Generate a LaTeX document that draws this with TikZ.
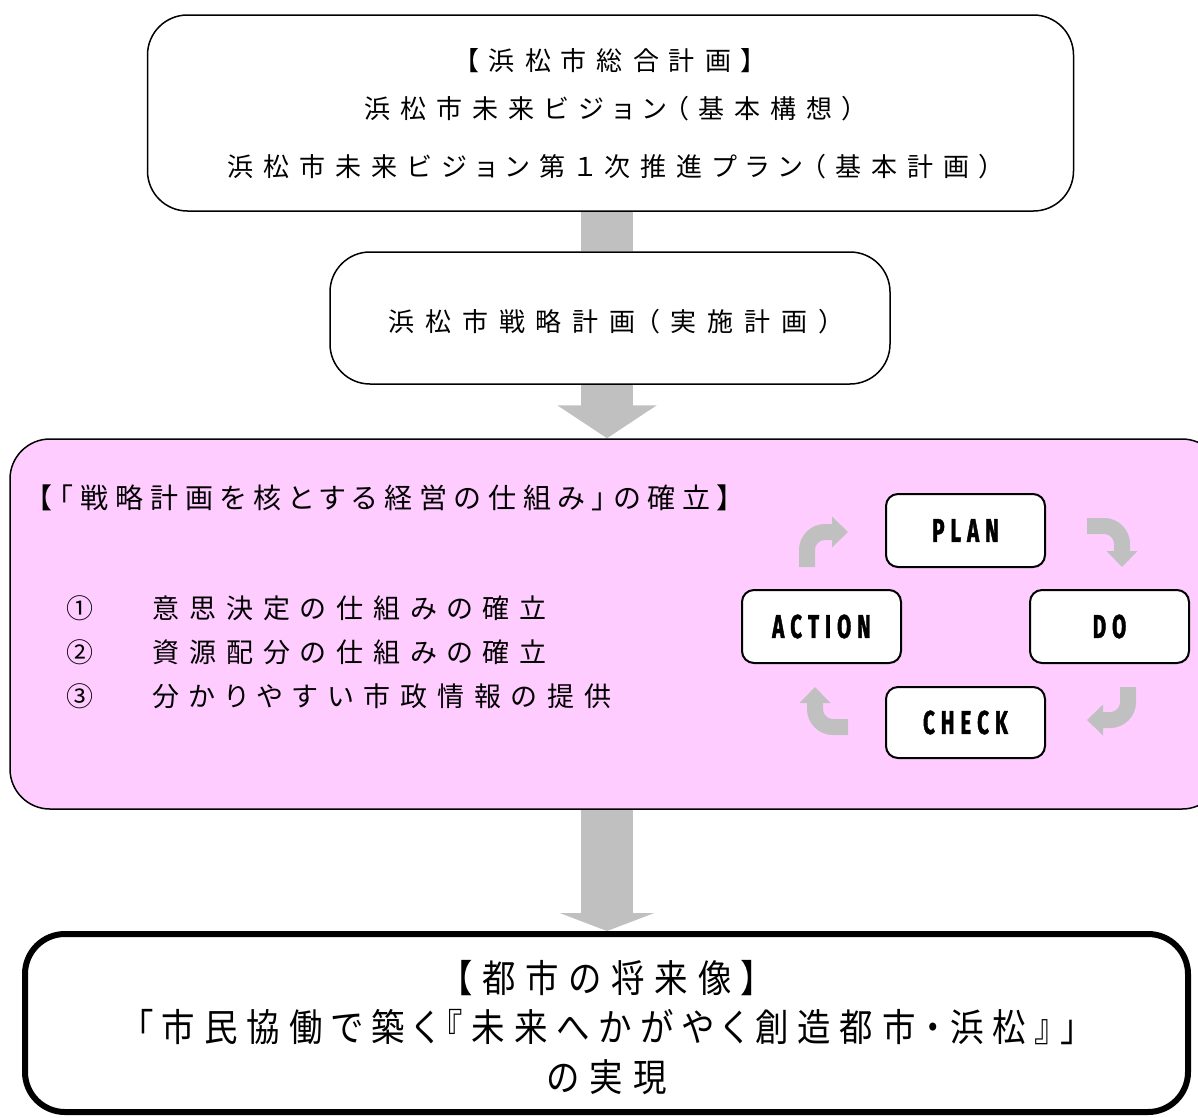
\documentclass[tikz,border=0pt]{standalone}
\usepackage{fontspec}
\usetikzlibrary{arrows.meta}
\newfontfamily\jp[RawFeature=+palt]{Noto Sans CJK JP}
\newfontfamily\jpbig[RawFeature=+palt,FakeStretch=0.88]{Noto Sans CJK JP}
\newfontfamily\pdcafont[FakeStretch=0.62,BoldFeatures={FakeBold=1.2}]{Fira Sans}
\definecolor{agray}{RGB}{192,192,192}
\definecolor{pinkfill}{RGB}{255,204,255}
\newdimen\lsp
\def\SO#1{\SOa#1\relax}
\def\SOa#1#2{#1\ifx\relax#2\else\kern\lsp\expandafter\SOa\fi#2}
\pgfdeclarelayer{bg}
\pgfsetlayers{bg,main}
\tikzset{
  frame/.style={draw=black, line width=1.5pt, rounded corners=40pt, fill=white, inner sep=0pt},
  pdcabox/.style={draw=black, line width=2pt, rounded corners=12pt, fill=white, inner sep=0pt,
    minimum width=159pt, minimum height=73pt,
    font=\pdcafont\bfseries\fontsize{33}{33}\selectfont},
  txt/.style={inner sep=0pt},
  bigarrow/.style={draw=agray, line width=52pt},
  cyc/.style={draw=agray, line width=16pt, rounded corners=18pt, -{Triangle[length=16pt,width=30pt]}},
}
\begin{document}
\begin{tikzpicture}[x=1pt,y=-1pt]
\useasboundingbox (0,0) rectangle (1198,1117);
\coordinate (ax) at (607,0);
% boxes
\node[frame, minimum width=926pt, minimum height=196pt] (top) at (610.5,113) {};
\node[frame, minimum width=560pt, minimum height=132pt] (box2) at (610,318) {};
\node[frame, fill=pinkfill, minimum width=1212pt, minimum height=370pt] (pink) at (616,624) {};
\node[frame, line width=6pt, minimum width=1163pt, minimum height=178pt] (goal) at (606.5,1023) {};
% arrows behind boxes
\begin{pgfonlayer}{bg}
\draw[bigarrow] (top.south -| ax) -- (box2.north -| ax);
\draw[bigarrow, -{Triangle[length=33pt,width=98pt]}] (box2.south -| ax) -- (pink.north -| ax);
\draw[bigarrow, -{Triangle[length=18pt,width=94pt]}] (pink.south -| ax) -- (goal.north -| ax);
\end{pgfonlayer}
% top box text
\begin{scope}[every node/.style={txt, font=\jp\fontsize{26}{26}\selectfont}]
\node (t1) at (610,61) {\lsp=10pt\relax\SO{【浜松市総合計画】}};
\node (t2) at (610,109) {\lsp=10pt\relax\SO{浜松市未来ビジョン（基本構想）}};
\node (t3) at (610,167) {\lsp=10pt\relax\SO{浜松市未来ビジョン第１次推進プラン（基本計画）}};
\node (s2) at (610,322) {\lsp=11pt\relax\SO{浜松市戦略計画（実施計画）}};
\end{scope}
% pink box text
\begin{scope}[every node/.style={txt, anchor=west, font=\jp\fontsize{28}{28}\selectfont}]
\node (title) at (38,498) {\lsp=7pt\relax\SO{【「戦略計画を核とする経営の仕組み」の確立】}};
\end{scope}
\begin{scope}[every node/.style={txt, anchor=west, font=\jp\fontsize{27}{27}\selectfont}]
\node (n1) at (66,608) {①};
\node (n2) at (66,652) {②};
\node (n3) at (66,696) {③};
\node (i1) at (152,608) {\lsp=10pt\relax\SO{意思決定の仕組みの確立}};
\node (i2) at (152,652) {\lsp=10pt\relax\SO{資源配分の仕組みの確立}};
\node (i3) at (152,696) {\lsp=10pt\relax\SO{分かりやすい市政情報の提供}};
\end{scope}
% PDCA
\node[pdcabox] (plan) at (965.5,530.5) {\lsp=6pt\relax\SO{PLAN}};
\node[pdcabox] (action) at (821.5,626.5) {\lsp=6pt\relax\SO{ACTION}};
\node[pdcabox] (do) at (1109.5,626.5) {\lsp=6pt\relax\SO{DO}};
\node[pdcabox, minimum height=71pt] (check) at (965.5,722.5) {\lsp=6pt\relax\SO{CHECK}};
\coordinate (tl1) at (807,567); \coordinate (tl2) at (807,532); \coordinate (tl3) at (848,532);
\coordinate (tr1) at (1087,526); \coordinate (tr2) at (1122,526); \coordinate (tr3) at (1122,567);
\coordinate (br1) at (1128,687); \coordinate (br2) at (1128,720); \coordinate (br3) at (1087,720);
\coordinate (bl1) at (848,727); \coordinate (bl2) at (815,727); \coordinate (bl3) at (815,687);
\draw[cyc] (tl1) -- (tl2) -- (tl3);
\draw[cyc] (tr1) -- (tr2) -- (tr3);
\draw[cyc] (br1) -- (br2) -- (br3);
\draw[cyc] (bl1) -- (bl2) -- (bl3);
% goal text
\begin{scope}[every node/.style={txt, font=\jpbig\fontsize{38}{38}\selectfont}]
\node (g1) at (607,978) {\lsp=10pt\relax\SO{【都市の将来像】}};
\node (g2) at (607,1027) {\lsp=9pt\relax\SO{「市民協働で築く『未来へかがやく創造都市・浜松』」}};
\node (g3) at (607,1077) {\lsp=10pt\relax\SO{の実現}};
\end{scope}
\end{tikzpicture}
\end{document}
